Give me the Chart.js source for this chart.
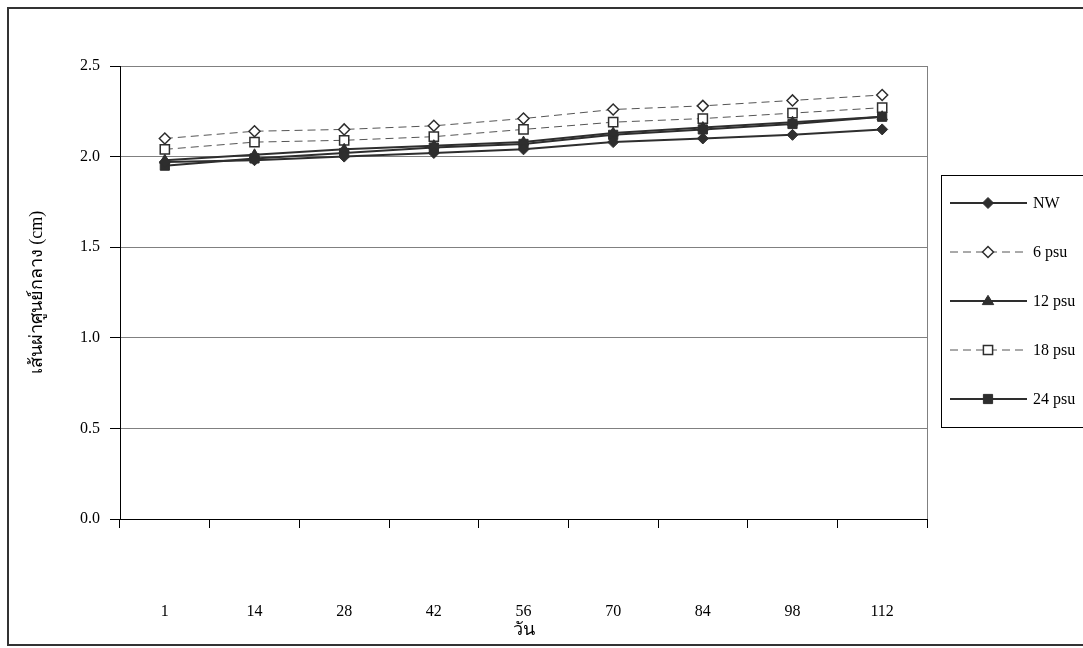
<!DOCTYPE html>
<html>
<head>
<meta charset="utf-8">
<title>เส้นผ่าศูนย์กลาง</title>
<script src="https://cdn.jsdelivr.net/npm/chart.js@4/dist/chart.umd.min.js"></script>
<style>
  html, body { margin: 0; padding: 0; background: #fff; }
  #wrap { width: 1083px; height: 648px; position: relative; }
</style>
</head>
<body>
<div id="wrap"><canvas id="chart"></canvas></div>
<script>
// days of measurement
const days = ['1', '14', '28', '42', '56', '70', '84', '98', '112'];

// diameter (cm) per salinity treatment
const nw    = [1.97, 1.98, 2.00, 2.02, 2.04, 2.08, 2.10, 2.12, 2.15];
const psu6  = [2.10, 2.14, 2.15, 2.17, 2.21, 2.26, 2.28, 2.31, 2.34];
const psu12 = [1.98, 2.01, 2.04, 2.06, 2.08, 2.13, 2.16, 2.19, 2.22];
const psu18 = [2.04, 2.08, 2.09, 2.11, 2.15, 2.19, 2.21, 2.24, 2.27];
const psu24 = [1.95, 1.99, 2.02, 2.05, 2.07, 2.12, 2.15, 2.18, 2.22];

const yMin = 0, yMax = 2.5, yStep = 0.5;

const serif = "'Liberation Serif', 'Times New Roman', serif";
const dark = '#2e2e2e';

function solid(label, data, style, radius) {
  return {
    label, data,
    borderColor: dark, borderWidth: 2,
    pointStyle: style, pointRadius: radius, pointHoverRadius: radius,
    pointBackgroundColor: dark, pointBorderColor: dark, pointBorderWidth: 1,
    tension: 0
  };
}
function dashed(label, data, style, radius) {
  return {
    label, data,
    borderColor: '#555', borderWidth: 1, borderDash: [8, 5],
    pointStyle: style, pointRadius: radius, pointHoverRadius: radius,
    pointBackgroundColor: '#fff', pointBorderColor: dark, pointBorderWidth: 1.5,
    tension: 0
  };
}

// simple marker painter for the legend box
function drawMarker(ctx, ds, x, y) {
  const r = ds.pointRadius;
  ctx.save();
  ctx.fillStyle = ds.pointBackgroundColor;
  ctx.strokeStyle = ds.pointBorderColor;
  ctx.lineWidth = ds.pointBorderWidth;
  ctx.setLineDash([]);
  ctx.beginPath();
  if (ds.pointStyle === 'rectRot') {
    ctx.moveTo(x - r, y); ctx.lineTo(x, y - r); ctx.lineTo(x + r, y); ctx.lineTo(x, y + r);
  } else if (ds.pointStyle === 'rect') {
    const s = r * Math.SQRT1_2;
    ctx.rect(x - s, y - s, 2 * s, 2 * s);
  } else if (ds.pointStyle === 'triangle') {
    ctx.moveTo(x - r * 0.95, y + r * 0.6);
    ctx.lineTo(x, y - r * 0.95);
    ctx.lineTo(x + r * 0.95, y + r * 0.6);
  }
  ctx.closePath();
  ctx.fill();
  ctx.stroke();
  ctx.restore();
}

const framePlugin = {
  id: 'frame',
  beforeDraw(chart) {
    const ctx = chart.ctx;
    ctx.save();
    ctx.fillStyle = '#fff';
    ctx.fillRect(0, 0, chart.width, chart.height);
    ctx.strokeStyle = '#333';
    ctx.lineWidth = 2;
    ctx.strokeRect(8, 8, chart.width + 20, 637);
    ctx.restore();
  },
  afterDraw(chart) {
    const ctx = chart.ctx;
    const a = chart.chartArea;
    // plot area right edge
    ctx.save();
    ctx.strokeStyle = '#808080';
    ctx.lineWidth = 1;
    ctx.beginPath();
    ctx.moveTo(Math.round(a.right) + 0.5, a.top);
    ctx.lineTo(Math.round(a.right) + 0.5, a.bottom);
    ctx.stroke();

    // legend box
    const bx = 941, by = 175, rowH = 49, first = 203;
    ctx.strokeStyle = '#000';
    ctx.lineWidth = 1;
    ctx.strokeRect(bx + 0.5, by + 0.5, 300, first - by + rowH * 4 + 28);
    ctx.font = '16px ' + serif;
    ctx.fillStyle = '#000';
    ctx.textBaseline = 'middle';
    chart.data.datasets.forEach((ds, i) => {
      const y = first + i * rowH;
      ctx.save();
      ctx.strokeStyle = ds.borderColor;
      ctx.lineWidth = ds.borderWidth;
      ctx.setLineDash(ds.borderDash || []);
      ctx.beginPath();
      ctx.moveTo(950, y);
      ctx.lineTo(1027, y);
      ctx.stroke();
      ctx.restore();
      drawMarker(ctx, ds, 988, y);
      ctx.fillText(ds.label, 1033, y + 1);
    });
    ctx.restore();
  }
};

new Chart(document.getElementById('chart'), {
  type: 'line',
  data: {
    labels: days,
    datasets: [
      solid('NW', nw, 'rectRot', 5.5),
      dashed('6 psu', psu6, 'rectRot', 5.5),
      solid('12 psu', psu12, 'triangle', 6),
      dashed('18 psu', psu18, 'rect', 6.5),
      solid('24 psu', psu24, 'rect', 6.5)
    ]
  },
  options: {
    responsive: true,
    maintainAspectRatio: false,
    animation: false,
    layout: { padding: { left: 8, top: 66, right: 156, bottom: 0 } },
    plugins: {
      legend: { display: false },
      tooltip: { enabled: false }
    },
    scales: {
      x: {
        offset: true,
        grid: { offset: true, drawOnChartArea: false, tickLength: 9, color: '#000', tickColor: '#000' },
        border: { color: '#000', width: 1 },
        ticks: { color: '#000', padding: 74, font: { family: serif, size: 16 }, maxRotation: 0 },
        title: { display: true, text: 'วัน', color: '#000', font: { family: serif, size: 18 }, padding: { top: 0, bottom: 7 } },
        afterFit(scale) { scale.height = 129; }
      },
      y: {
        min: yMin, max: yMax,
        grid: { color: '#808080', tickColor: '#000', tickLength: 10, lineWidth: 1 },
        border: { color: '#000', width: 1 },
        ticks: {
          stepSize: yStep, color: '#000', padding: 10,
          font: { family: serif, size: 16 },
          callback: (v) => Number(v).toFixed(1)
        },
        title: { display: true, text: 'เส้นผ่าศูนย์กลาง (cm)', color: '#000', font: { family: serif, size: 18 }, padding: { top: 18, bottom: 0 } },
        afterFit(scale) { scale.width = 112; }
      }
    }
  },
  plugins: [framePlugin]
});
</script>
</body>
</html>
